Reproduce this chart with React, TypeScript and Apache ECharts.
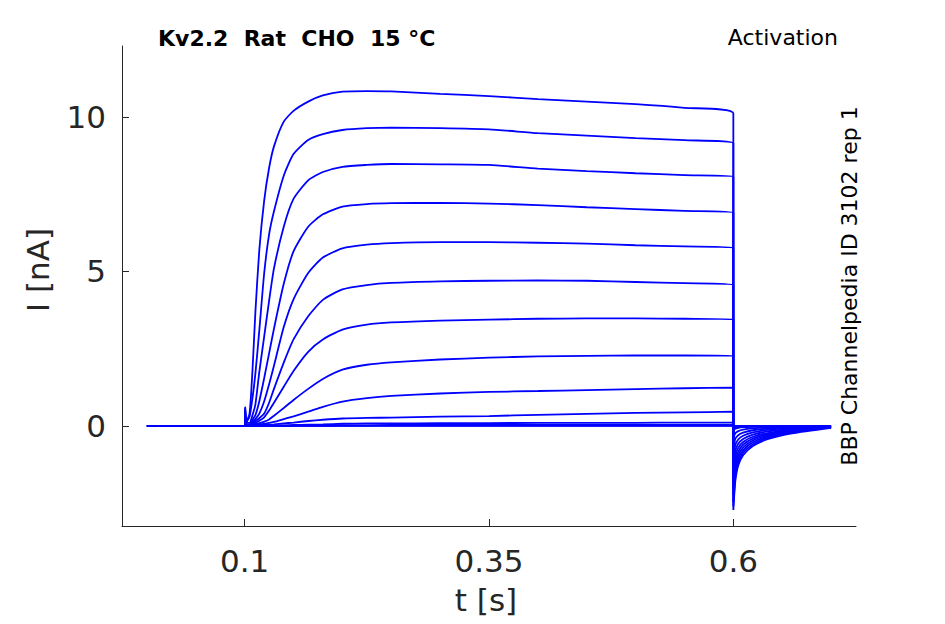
import React, { useEffect, useRef } from "react";
import * as echarts from "echarts";

// Time grids (s)
const stepTimes = [0, 0.1, 0.1006, 0.1012, 0.105, 0.108, 0.111, 0.115, 0.12, 0.125, 0.13, 0.14, 0.15, 0.165, 0.18, 0.2, 0.225, 0.25, 0.3, 0.35, 0.4, 0.45, 0.5, 0.55, 0.6];
const tailTimes = [0.6, 0.602, 0.605, 0.61, 0.62, 0.635, 0.66, 0.7];

// Currents (nA) during the activation step, one array per trace
const step1 = [0, 0, 0.6, 0.1, 0.4, 1.8, 3.7, 5.7, 7.3, 8.35, 9.05, 9.85, 10.2, 10.5, 10.7, 10.82, 10.84, 10.83, 10.75, 10.68, 10.58, 10.5, 10.42, 10.3, 10.12];
const step2 = [0, 0, 0.6, 0.1, 0.3, 0.9, 1.7, 3.1, 4.95, 6.2, 6.95, 8.1, 8.8, 9.26, 9.45, 9.58, 9.64, 9.66, 9.64, 9.6, 9.48, 9.4, 9.32, 9.25, 9.15];
const step3 = [0, 0, 0.55, 0.1, 0.1, 0.35, 0.7, 1.75, 2.9, 4.05, 5.1, 6.45, 7.35, 7.95, 8.22, 8.39, 8.45, 8.48, 8.47, 8.45, 8.33, 8.25, 8.18, 8.12, 8.07];
const step4 = [0, 0, 0.5, 0.05, 0.05, 0.2, 0.35, 0.8, 1.55, 2.35, 3.15, 4.6, 5.65, 6.45, 6.85, 7.1, 7.18, 7.21, 7.22, 7.2, 7.15, 7.08, 7.02, 6.96, 6.9];
const step5 = [0, 0, 0.5, 0.05, 0.03, 0.12, 0.22, 0.4, 0.8, 1.35, 1.95, 3.2, 4.1, 4.95, 5.45, 5.75, 5.87, 5.92, 5.95, 5.95, 5.93, 5.9, 5.85, 5.81, 5.77];
const step6 = [0, 0, 0.45, 0.03, 0.02, 0.08, 0.15, 0.25, 0.4, 0.75, 1.2, 2.05, 2.8, 3.55, 4.08, 4.42, 4.56, 4.63, 4.68, 4.7, 4.71, 4.7, 4.66, 4.62, 4.56];
const step7 = [0, 0, 0.45, 0.03, 0.02, 0.05, 0.1, 0.17, 0.28, 0.5, 0.75, 1.27, 1.78, 2.4, 2.8, 3.12, 3.28, 3.35, 3.41, 3.44, 3.47, 3.48, 3.48, 3.47, 3.45];
const step8 = [0, 0, 0.4, 0.02, 0.01, 0.03, 0.06, 0.09, 0.14, 0.21, 0.33, 0.58, 0.84, 1.2, 1.52, 1.82, 1.98, 2.06, 2.15, 2.21, 2.25, 2.27, 2.28, 2.28, 2.27];
const step9 = [0, 0, 0.4, 0.02, 0.01, 0.02, 0.03, 0.05, 0.07, 0.1, 0.13, 0.22, 0.31, 0.46, 0.62, 0.79, 0.9, 0.97, 1.05, 1.1, 1.13, 1.16, 1.19, 1.22, 1.24];
const step10 = [0, 0, 0.35, 0.01, 0, 0.01, 0.01, 0.02, 0.03, 0.04, 0.05, 0.08, 0.11, 0.16, 0.2, 0.24, 0.26, 0.27, 0.3, 0.32, 0.36, 0.39, 0.42, 0.44, 0.46];
const step11 = [0, 0, 0.3, 0.01, 0, 0, 0, 0.01, 0.01, 0.01, 0.02, 0.02, 0.03, 0.04, 0.05, 0.07, 0.08, 0.08, 0.09, 0.09, 0.1, 0.1, 0.1, 0.11, 0.11];
const step12 = [0, 0, 0.25, 0, 0, 0, 0, 0, 0.01, 0.01, 0.01, 0.01, 0.01, 0.02, 0.02, 0.02, 0.02, 0.03, 0.03, 0.03, 0.03, 0.03, 0.03, 0.03, 0.03];
const step13 = [0, 0, 0.2, 0, 0, 0, 0, 0, 0, 0, 0, 0, 0, 0, 0, 0.01, 0.01, 0.01, 0.01, 0.01, 0.01, 0.01, 0.01, 0.01, 0.01];
const step14 = [0, 0, 0.15, 0, 0, 0, 0, 0, 0, 0, 0, 0, 0, 0, 0, 0, 0, 0, 0, 0, 0, 0, 0, 0, 0];

// Tail currents (nA) after the step, one array per trace
const tail1 = [-2.72, -1.8, -1.28, -0.95, -0.65, -0.43, -0.24, -0.06];
const tail2 = [-2.6, -1.65, -1.18, -0.87, -0.59, -0.39, -0.21, -0.05];
const tail3 = [-2.45, -1.5, -1.07, -0.79, -0.53, -0.35, -0.19, -0.05];
const tail4 = [-2.25, -1.35, -0.96, -0.7, -0.47, -0.31, -0.17, -0.04];
const tail5 = [-2.0, -1.18, -0.84, -0.61, -0.41, -0.27, -0.14, -0.04];
const tail6 = [-1.7, -1.0, -0.71, -0.52, -0.35, -0.23, -0.12, -0.03];
const tail7 = [-1.4, -0.82, -0.58, -0.42, -0.28, -0.18, -0.1, -0.03];
const tail8 = [-1.05, -0.62, -0.44, -0.32, -0.21, -0.13, -0.07, -0.02];
const tail9 = [-0.7, -0.42, -0.3, -0.22, -0.14, -0.09, -0.05, -0.01];
const tail10 = [-0.4, -0.24, -0.17, -0.12, -0.08, -0.05, -0.03, -0.01];
const tail11 = [-0.15, -0.09, -0.06, -0.04, -0.03, -0.02, -0.01, 0];
const tail12 = [-0.06, -0.04, -0.03, -0.02, -0.01, 0, 0, 0];
const tail13 = [-0.02, -0.01, -0.01, 0, 0, 0, 0, 0];
const tail14 = [0, 0, 0, 0, 0, 0, 0, 0];

const steps = [step1, step2, step3, step4, step5, step6, step7, step8, step9, step10, step11, step12, step13, step14];
const tails = [tail1, tail2, tail3, tail4, tail5, tail6, tail7, tail8, tail9, tail10, tail11, tail12, tail13, tail14];

const xTicks = [0.1, 0.35, 0.6];
const yTicks = [0, 5, 10];

const titleText = "Kv2.2  Rat  CHO  15 °C";
const protocolText = "Activation";
const sourceText = "BBP Channelpedia ID 3102 rep 1";

const FONT = "DejaVu Sans";
const AXIS_COLOR = "#262626";

export default function App() {
  const ref = useRef<HTMLDivElement>(null);

  useEffect(() => {
    if (!ref.current) return;
    const chart = echarts.init(ref.current, null, { renderer: "svg" });

    const series = steps.map((s, i) => {
      const data: number[][] = [];
      stepTimes.forEach((t, k) => data.push([t, s[k]]));
      tailTimes.forEach((t, k) => data.push([t, tails[i][k]]));
      return {
        type: "line",
        data,
        showSymbol: false,
        symbol: "none",
        silent: true,
        smooth: 0.2,
        lineStyle: { color: "#0000ff", width: 1.8 },
        z: 2,
      };
    });

    chart.setOption({
      animation: false,
      backgroundColor: "#ffffff",
      grid: { left: 122, right: 89, top: 46, bottom: 98, containLabel: false },
      xAxis: {
        type: "value",
        min: -0.0255,
        max: 0.7255,
        axisLine: { show: true, onZero: false, lineStyle: { color: AXIS_COLOR, width: 1 } },
        axisTick: { show: true, inside: true, length: 7, customValues: xTicks, lineStyle: { color: AXIS_COLOR } },
        axisLabel: {
          show: true,
          customValues: xTicks,
          margin: 19,
          color: AXIS_COLOR,
          fontFamily: FONT,
          fontSize: 31,
          formatter: (v: number) => String(v),
        },
        splitLine: { show: false },
      },
      yAxis: {
        type: "value",
        min: -3.24,
        max: 12.3,
        axisLine: { show: true, onZero: false, lineStyle: { color: AXIS_COLOR, width: 1 } },
        axisTick: { show: true, inside: true, length: 7, customValues: yTicks, lineStyle: { color: AXIS_COLOR } },
        axisLabel: {
          show: true,
          customValues: yTicks,
          margin: 16,
          color: AXIS_COLOR,
          fontFamily: FONT,
          fontSize: 31,
          formatter: (v: number) => String(v),
        },
        splitLine: { show: false },
      },
      graphic: [
        {
          type: "text",
          left: 158,
          top: 27,
          style: { text: titleText, font: `bold 22px "${FONT}"`, fill: "#000000" },
        },
        {
          type: "text",
          right: 107,
          top: 26,
          style: { text: protocolText, font: `22px "${FONT}"`, fill: "#000000" },
        },
        {
          type: "text",
          x: 849,
          y: 286,
          rotation: Math.PI / 2,
          style: {
            text: sourceText,
            font: `22px "${FONT}"`,
            fill: "#000000",
            align: "center",
            verticalAlign: "middle",
          },
        },
        {
          type: "text",
          x: 38,
          y: 270,
          rotation: Math.PI / 2,
          style: {
            text: "I [nA]",
            font: `31px "${FONT}"`,
            fill: AXIS_COLOR,
            align: "center",
            verticalAlign: "middle",
          },
        },
        {
          type: "text",
          x: 486,
          y: 600,
          style: {
            text: "t [s]",
            font: `31px "${FONT}"`,
            fill: AXIS_COLOR,
            align: "center",
            verticalAlign: "middle",
          },
        },
      ],
      series,
    });

    return () => chart.dispose();
  }, []);

  return <div ref={ref} style={{ width: 945, height: 624, marginLeft: -8, marginTop: -8 }} />;
}
